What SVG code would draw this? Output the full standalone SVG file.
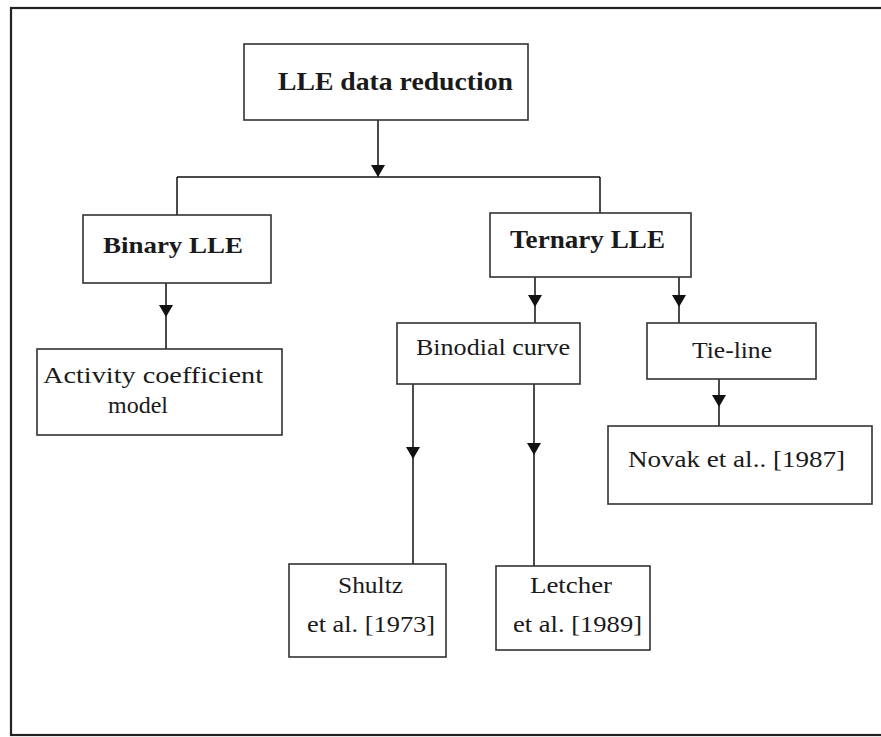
<svg xmlns="http://www.w3.org/2000/svg" xmlns:xlink="http://www.w3.org/1999/xlink" width="881" height="737" viewBox="0 0 881 737">
<style>
.box{fill:#fff;stroke:#333;stroke-width:1.6}
.t{font-family:"Liberation Serif","Times New Roman",serif;fill:#1a1a1a}
.b{font-weight:bold}
.n{font-size:24px}
.ln{fill:none;stroke:#111;stroke-width:1.5}
.ah{fill:#111}
</style>
<defs>
<path id="ah" d="M-7,-6 L7,-6 L0,6 Z"/>
</defs>
<rect width="881" height="737" fill="#fff"/>
<rect x="11" y="8" width="880" height="727" fill="none" stroke="#222" stroke-width="2.2"/>
<g id="connectors">
<path class="ln" d="M378,120 V177 M177,177 H600 M177,177 V215 M600,177 V213"/>
<path class="ln" d="M166,283 V349 M535,277 V323 M679,277 V323 M719,379 V426 M413,384 V564 M534,384 V566"/>
<use xlink:href="#ah" class="ah" x="378" y="171"/>
<use xlink:href="#ah" class="ah" x="166" y="311"/>
<use xlink:href="#ah" class="ah" x="535" y="301"/>
<use xlink:href="#ah" class="ah" x="679" y="301"/>
<use xlink:href="#ah" class="ah" x="719" y="401"/>
<use xlink:href="#ah" class="ah" x="413" y="453"/>
<use xlink:href="#ah" class="ah" x="534" y="449"/>
</g>
<g id="node-lle">
<rect class="box" x="244" y="44" width="284" height="76"/>
<text class="t b" x="278" y="90" font-size="26" textLength="235" lengthAdjust="spacingAndGlyphs">LLE data reduction</text>
</g>
<g id="node-binary">
<rect class="box" x="83" y="215" width="188" height="68"/>
<text class="t b" x="103" y="253" font-size="24" textLength="140" lengthAdjust="spacingAndGlyphs">Binary LLE</text>
</g>
<g id="node-ternary">
<rect class="box" x="490" y="213" width="201" height="64"/>
<text class="t b" x="510" y="248" font-size="26" textLength="155" lengthAdjust="spacingAndGlyphs">Ternary LLE</text>
</g>
<g id="node-activity">
<rect class="box" x="37" y="349" width="245" height="86"/>
<text class="t n" x="43" y="383" textLength="220" lengthAdjust="spacingAndGlyphs">Activity coefficient</text>
<text class="t n" x="108" y="413" textLength="60" lengthAdjust="spacingAndGlyphs">model</text>
</g>
<g id="node-binodial">
<rect class="box" x="397" y="323" width="183" height="61"/>
<text class="t n" x="416" y="355" textLength="154" lengthAdjust="spacingAndGlyphs">Binodial curve</text>
</g>
<g id="node-tieline">
<rect class="box" x="647" y="323" width="169" height="56"/>
<text class="t n" x="692" y="358" textLength="80" lengthAdjust="spacingAndGlyphs">Tie-line</text>
</g>
<g id="node-novak">
<rect class="box" x="608" y="426" width="264" height="78"/>
<text class="t n" x="628" y="467" textLength="217" lengthAdjust="spacingAndGlyphs">Novak et al.. [1987]</text>
</g>
<g id="node-shultz">
<rect class="box" x="289" y="564" width="157" height="93"/>
<text class="t n" x="338" y="593" textLength="65" lengthAdjust="spacingAndGlyphs">Shultz</text>
<text class="t n" x="307" y="632" textLength="128" lengthAdjust="spacingAndGlyphs">et al. [1973]</text>
</g>
<g id="node-letcher">
<rect class="box" x="496" y="566" width="154" height="84"/>
<text class="t n" x="530" y="593" textLength="82" lengthAdjust="spacingAndGlyphs">Letcher</text>
<text class="t n" x="513" y="632" textLength="129" lengthAdjust="spacingAndGlyphs">et al. [1989]</text>
</g>
</svg>
